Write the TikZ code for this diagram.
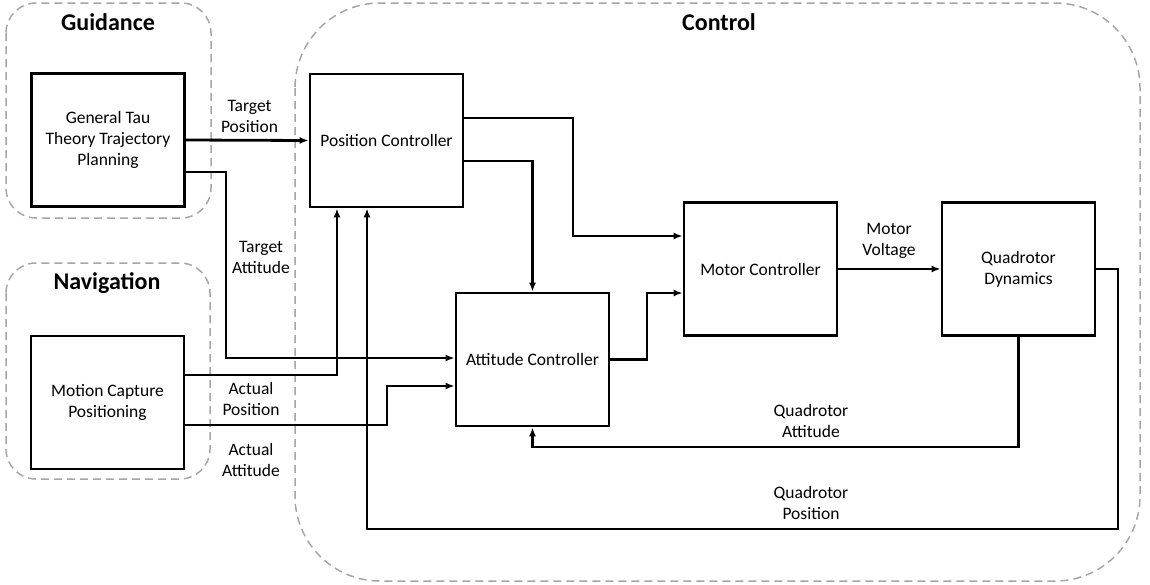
\documentclass[tikz,border=0pt]{standalone}
\usepackage{fontspec}
\setmainfont{Carlito}
\usetikzlibrary{arrows.meta}

\tikzset{
  block/.style={draw, line width=2.8pt, minimum width=153pt, minimum height=133pt,
    align=center, inner sep=0pt, font=\fontsize{17.5}{21}\selectfont},
  lbl/.style={align=center, inner sep=0pt, font=\fontsize{17.5}{21}\selectfont},
  grouptitle/.style={inner sep=0pt, font=\fontsize{24}{28}\selectfont\bfseries},
  group/.style={draw=gray!70, line width=1.5pt, dash pattern=on 8pt off 5pt},
  sig/.style={line width=2.8pt, -{Latex[length=9pt,width=7pt]}},
}

\begin{document}
\begin{tikzpicture}[x=1pt, y=-1pt]
    \useasboundingbox (0,0) rectangle (1150,584);
    % groups
    \draw[group, rounded corners=30pt] (6,3) rectangle (211,218);
    \draw[group, rounded corners=30pt] (6,263) rectangle (210,479);
    \draw[group, rounded corners=85pt] (295,3) rectangle (1140,581);
    \node[grouptitle] (guidance) at (108,22) {Guidance};
    \node[grouptitle] (navigation) at (107,283) {Navigation};
    \node[grouptitle] (control) at (719,22) {Control};
    % blocks
    \node[block] (tau) at (108,140) {General Tau\\Theory Trajectory\\Planning};
    \node[block] (mocap) at (107.5,402.5) {Motion Capture\\Positioning};
    \node[block] (posc) at (386.5,140.5) {Position Controller};
    \node[block] (attc) at (532.5,359.5) {Attitude Controller};
    \node[block] (motc) at (760.5,269) {Motor Controller};
    \node[block] (quad) at (1018.5,269) {Quadrotor\\Dynamics};
    % signals
    \draw[sig] (tau.east) -- (posc.west);
    \draw[sig] (tau.east |- 0,172) -- (226,172) |- (attc.west |- 0,358);
    \draw[sig] (mocap.east |- 0,375) -| (posc.south -| 337,0);
    \draw[sig] (mocap.east |- 0,425) -- (387,425) |- (attc.west |- 0,386);
    \draw[sig] (posc.east |- 0,118) -- (573,118) |- (motc.west |- 0,236);
    \draw[sig] (posc.east |- 0,161) -| (attc.north);
    \draw[sig] (attc.east) -- (647,359.5) |- (motc.west |- 0,293);
    \draw[sig] (motc.east) -- (quad.west);
    % feedback
    \draw[sig] (quad.east) -| (1118,529) -| (posc.south -| 367,0);
    \draw[sig] (quad.south) |- (attc.south |- 0,447) -- (attc.south);
    % labels
    \node[lbl] (tpos) at (249.5,116.5) {Target\\Position};
    \node[lbl] (tatt) at (261,257.5) {Target\\Attitude};
    \node[lbl] (apos) at (251,399) {Actual\\Position};
    \node[lbl] (aatt) at (251,459.5) {Actual\\Attitude};
    \node[lbl] (mvolt) at (889,241) {Motor\\Voltage};
    \node[lbl] (qatt) at (811,420.5) {Quadrotor\\Attitude};
    \node[lbl] (qpos) at (811,503) {Quadrotor\\Position};
\end{tikzpicture}
\end{document}
